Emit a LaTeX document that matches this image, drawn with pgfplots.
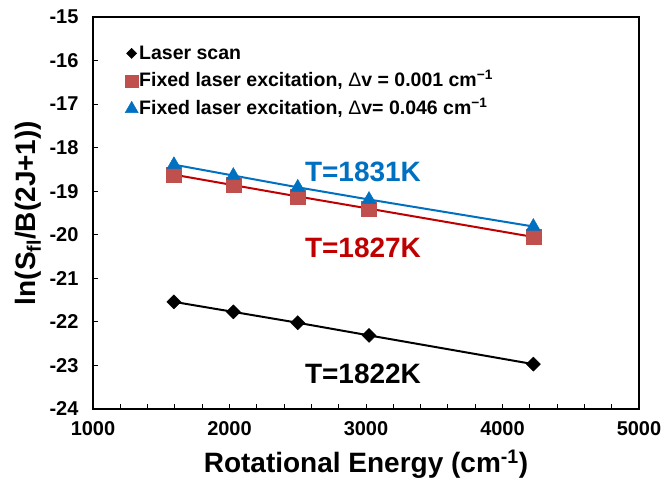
\documentclass[border=0pt]{standalone}
\usepackage{pgfplots}
\pgfplotsset{compat=1.18}
\usepackage{fontspec}
\setmainfont{Liberation Sans}
\definecolor{myred}{HTML}{C00000}
\definecolor{sqred}{HTML}{C0504D}
\definecolor{myblue}{HTML}{0070C0}
\begin{document}
\begin{tikzpicture}
\begin{axis}[
  name=ax, at={(0,0)}, anchor=south west,
  scale only axis, width=546bp, height=392bp,
  xmin=1000, xmax=5000, ymin=-24, ymax=-15,
  xtick={1000,2000,3000,4000,5000},
  minor x tick num=4,
  ytick={-24,-23,-22,-21,-20,-19,-18,-17,-16,-15},
  tick pos=left,
  tick align=inside,
  major tick length=5bp, minor tick length=5bp,
  tick style={black, line width=1bp},
  axis line style={line width=1.5bp},
  /pgf/number format/assume math mode=true,
  /pgf/number format/1000 sep={},
  scaled ticks=false,
  ticklabel style={font=\fontsize{20bp}{24bp}\selectfont\bfseries},
  xticklabel style={yshift=-9bp},
  yticklabel style={xshift=-11bp},
  xlabel={Rotational Energy (cm\textsuperscript{-1})},
  ylabel={ln(S\textsubscript{fl}/B(2J+1))},
  label style={font=\fontsize{28bp}{32bp}\selectfont\bfseries},
  xlabel style={at={(axis description cs:0.5,-0.161)}, anchor=base},
  ylabel style={at={(axis description cs:-0.119,0.5)}, anchor=center},
  legend image code/.code={\draw[mark repeat=2,mark phase=2,#1] plot coordinates {(0bp,0bp) (6bp,0bp) (12bp,0bp)};},
  legend style={at={(axis description cs:0.0586,0.943)}, anchor=north west,
    draw=none, fill=none, inner sep=0pt,
    font=\fontsize{19.5bp}{22bp}\selectfont\bfseries,
    nodes={inner sep=1bp, text depth=7bp, text height=18.7bp}},
  legend cell align=left,
]
\addlegendimage{only marks, black, mark=square*, mark size=3.6bp, mark options={rotate=45}}
\addlegendentry{Laser scan}
\addlegendimage{only marks, sqred, mark=square*, mark size=6.2bp, mark options={fill=sqred, draw=sqred}}
\addlegendentry{Fixed laser excitation, {\mdseries Δ}v = 0.001 cm\textsuperscript{−1}}
\addlegendimage{only marks, myblue, mark=triangle*, mark size=7.5bp, mark options={fill=myblue, draw=myblue}}
\addlegendentry{Fixed laser excitation, {\mdseries Δ}v= 0.046 cm\textsuperscript{−1}}
\addplot[black, line width=2bp, forget plot] coordinates {
  (1593,-21.54) (2028,-21.77) (2500,-22.02) (3022,-22.31) (4226,-22.97)};
\addplot[only marks, black, mark=square*, mark size=5bp, mark options={rotate=45}, forget plot] coordinates {
  (1593,-21.54) (2028,-21.77) (2500,-22.02) (3022,-22.31) (4226,-22.97)};
\addplot[myred, line width=2bp, forget plot] coordinates {
  (1593,-18.62) (2028,-18.86) (2500,-19.12) (3022,-19.40) (4226,-20.05)};
\addplot[only marks, sqred, mark=square*, mark size=7.5bp, mark options={fill=sqred, draw=sqred}, forget plot] coordinates {
  (1593,-18.62) (2028,-18.86) (2500,-19.12) (3022,-19.40) (4226,-20.05)};
\addplot[myblue, line width=2bp, forget plot] coordinates {
  (1593,-18.39) (2028,-18.64) (2500,-18.91) (3022,-19.19) (4226,-19.81)};
\addplot[only marks, myblue, mark=triangle*, mark size=8bp, mark options={fill=myblue, draw=myblue}, forget plot] coordinates {
  (1593,-18.39) (2028,-18.64) (2500,-18.91) (3022,-19.19) (4226,-19.81)};
\node[myblue, font=\fontsize{28bp}{32bp}\selectfont\bfseries] at (axis cs:2978,-18.56) {T=1831K};
\node[myred, font=\fontsize{28bp}{32bp}\selectfont\bfseries] at (axis cs:2978,-20.30) {T=1827K};
\node[black, font=\fontsize{28bp}{32bp}\selectfont\bfseries] at (axis cs:2978,-23.20) {T=1822K};
\end{axis}
\pgfresetboundingbox
\path[use as bounding box] (-93bp,-77bp) rectangle (574bp,409bp);
\end{tikzpicture}
\end{document}
